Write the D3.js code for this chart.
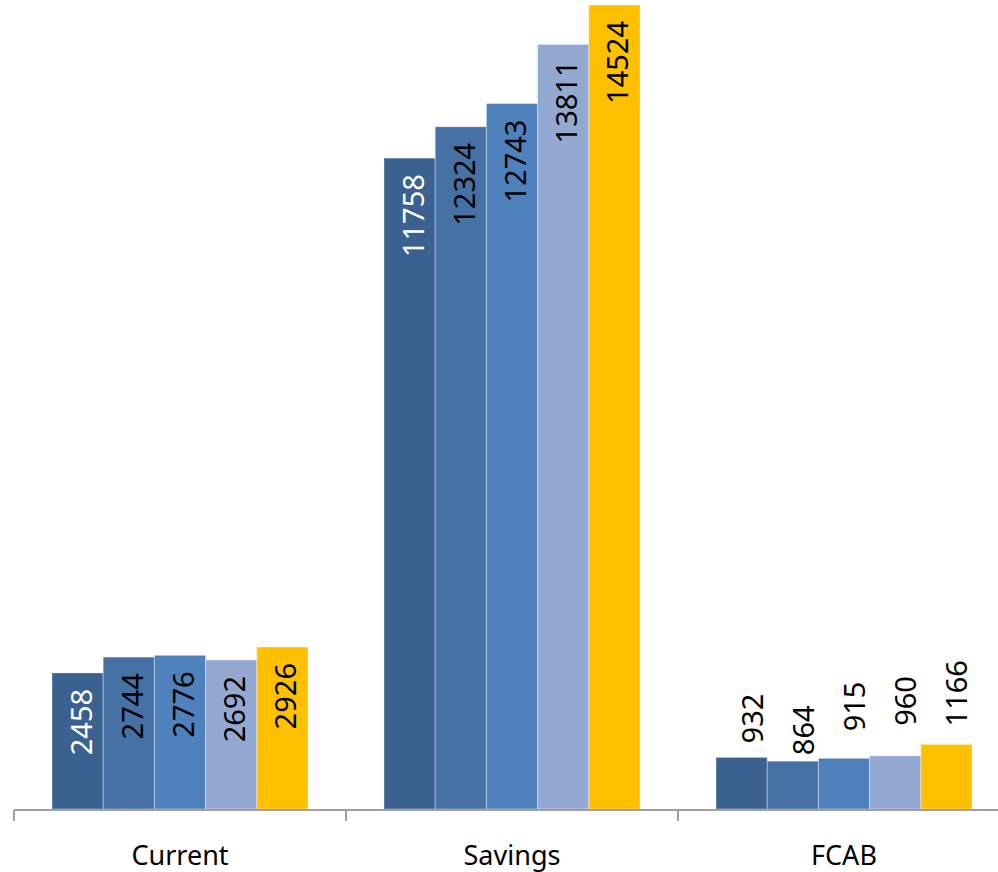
<!DOCTYPE html>
<html>
<head>
<meta charset="utf-8">
<script src="https://cdn.jsdelivr.net/npm/d3@7/dist/d3.min.js"></script>
<style>
  html, body { margin: 0; padding: 0; background: #fff; }
  svg { display: block; }
</style>
</head>
<body>
<svg id="chart" width="998" height="872"></svg>
<script>
// Account balances by type, five periods per category
const categories = ["Current", "Savings", "FCAB"];
const seriesNames = ["P1", "P2", "P3", "P4", "P5"];
const currentValues = [2458, 2744, 2776, 2692, 2926];
const savingsValues = [11758, 12324, 12743, 13811, 14524];
const fcabValues = [932, 864, 915, 960, 1166];
const seriesColors = ["#3b6190", "#4571a5", "#4f81bd", "#94a9d2", "#ffc000"];
const labelColors = ["#ffffff", "#000000", "#000000", "#000000", "#000000"];

const rows = [currentValues, savingsValues, fcabValues];

const W = 998, H = 872;
const baseY = 809;
const svg = d3.select("#chart");
const font = "'Noto Sans', 'Open Sans', sans-serif";

const x = d3.scaleBand().domain(categories).range([14, 1010]).paddingInner(0).paddingOuter(0);
const inner = d3.scaleBand().domain(d3.range(seriesNames.length))
  .range([38, x.bandwidth() - 38]).padding(0);
const y = d3.scaleLinear().domain([0, 14524]).range([baseY, 5]);

// bars
const groups = svg.selectAll("g.cat").data(categories).join("g")
  .attr("class", "cat")
  .attr("transform", d => `translate(${x(d)},0)`);

groups.each(function(cat, ci) {
  const g = d3.select(this);
  const vals = rows[ci];
  g.selectAll("rect").data(vals).join("rect")
    .attr("x", (d, i) => inner(i))
    .attr("y", d => y(d))
    .attr("width", inner.bandwidth())
    .attr("height", d => baseY - y(d))
    .attr("fill", (d, i) => seriesColors[i])
    .attr("stroke", "rgba(255,255,255,0.35)")
    .attr("stroke-width", 1);
});

// value labels: inside the bar end when tall enough, otherwise above the bar
const outsideNudge = [14, 6, 27, 30, 18];
groups.each(function(cat, ci) {
  const g = d3.select(this);
  const vals = rows[ci];
  g.selectAll("text.val").data(vals).join("text")
    .attr("class", "val")
    .attr("font-family", font)
    .attr("font-size", 29)
    .each(function(d, i) {
      const t = d3.select(this);
      const cx = inner(i) + inner.bandwidth() / 2;
      const h = baseY - y(d);
      if (h > 100) {
        t.attr("transform", `translate(${cx + 14},${y(d) + 16}) rotate(-90)`)
          .attr("text-anchor", "end")
          .attr("fill", labelColors[i]);
      } else {
        t.attr("transform", `translate(${cx + 21},${y(d) - outsideNudge[i]}) rotate(-90)`)
          .attr("text-anchor", "start")
          .attr("fill", "#000");
      }
    })
    .text(d => d);
});

// category axis
const axis = svg.append("g").attr("transform", `translate(0,${baseY + 1})`);
axis.append("line")
  .attr("x1", 14).attr("x2", W)
  .attr("y1", 0).attr("y2", 0)
  .attr("stroke", "#a0a0a0").attr("stroke-width", 2);
axis.selectAll("line.tick").data(categories.concat(["end"])).join("line")
  .attr("class", "tick")
  .attr("x1", (d, i) => 14 + i * x.bandwidth())
  .attr("x2", (d, i) => 14 + i * x.bandwidth())
  .attr("y1", 0).attr("y2", 11)
  .attr("stroke", "#a0a0a0").attr("stroke-width", 2);
axis.selectAll("text").data(categories).join("text")
  .attr("x", d => x(d) + x.bandwidth() / 2)
  .attr("y", 55)
  .attr("text-anchor", "middle")
  .attr("font-family", font)
  .attr("font-size", 27)
  .attr("fill", "#000")
  .text(d => d);
</script>
</body>
</html>
